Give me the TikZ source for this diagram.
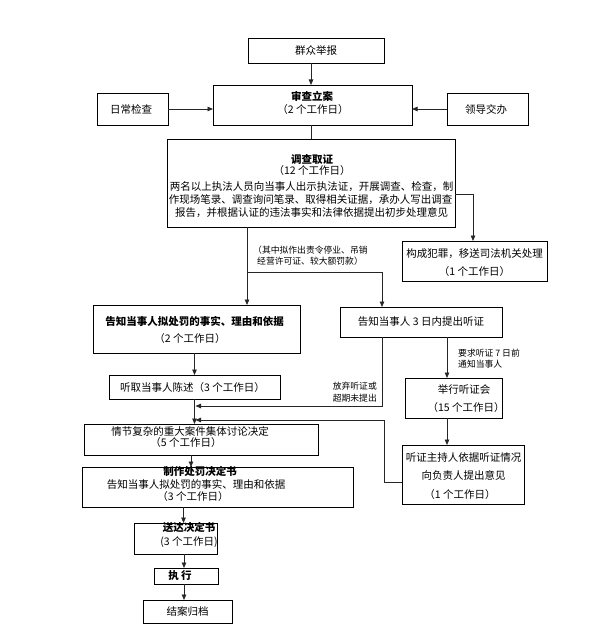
\documentclass[tikz,border=0pt]{standalone}
\usepackage{fontspec}
\setmainfont{Noto Sans CJK SC}
\usetikzlibrary{arrows.meta,calc}
\begin{document}
\begin{tikzpicture}[x=1pt,y=-1pt,
  box/.style={draw=black,line width=0.8pt,inner sep=0pt,outer sep=0pt,rectangle},
  t/.style={inner sep=0pt,font=\fontsize{10.5}{12}\selectfont,text height=8.6pt,text depth=1.4pt},
  tb/.style={t,font=\fontsize{10.5}{12}\selectfont\bfseries},
  ts/.style={inner sep=0pt,font=\fontsize{8.8}{10}\selectfont,text height=7.2pt,text depth=1.2pt},
  ln/.style={line width=0.8pt,draw=black!85},
  arr/.style={ln,-{Triangle[length=5.5pt,width=4.5pt]}}]
\useasboundingbox (0,0) rectangle (596,644);
\fill[white] (0,0) rectangle (596,644);
% boxes
\node[box,minimum width=136pt,minimum height=25pt] (qz) at (316,50.5) {};
\node[box,minimum width=71pt,minimum height=32pt] (rc) at (132.5,109) {};
\node[box,minimum width=199pt,minimum height=40pt] (sc) at (312.5,105) {};
\node[box,minimum width=81pt,minimum height=32pt] (ld) at (487.5,109) {};
\node[box,minimum width=288pt,minimum height=88pt] (dc) at (311,183) {};
\node[box,minimum width=145pt,minimum height=40pt] (fz) at (474.5,261) {};
\node[box,minimum width=207pt,minimum height=48pt] (nz) at (196.5,329) {};
\node[box,minimum width=162pt,minimum height=30pt] (tz) at (421,322) {};
\node[box,minimum width=171pt,minimum height=24pt] (tq) at (194.5,387) {};
\node[box,minimum width=97pt,minimum height=40pt] (jx) at (453.5,398) {};
\node[box,minimum width=122pt,minimum height=59pt] (zc) at (463,474.5) {};
\node[box,minimum width=234pt,minimum height=31pt] (qj) at (201,439.5) {};
\node[box,minimum width=271pt,minimum height=40pt] (zz) at (217.5,487) {};
\node[box,minimum width=83pt,minimum height=31pt] (sd) at (175.5,538.5) {};
\node[box,minimum width=64pt,minimum height=16pt] (zx) at (186,576) {};
\node[box,minimum width=89pt,minimum height=23pt] (ja) at (187.5,611.5) {};
% texts
\node[t] (t1) at (316,51) {群众举报};
\node[t] (t2) at (131,110) {日常检查};
\node[tb] (t3) at (312,97) {审查立案};
\node[t] (t4) at (313,110) {（2 个工作日）};
\node[t] (t5) at (486,110) {领导交办};
\node[tb] (t6) at (312,160) {调查取证};
\node[t] (t7) at (312,171) {（12 个工作日）};
\node[t] (t8) at (311.5,187) {两名以上执法人员向当事人出示执法证，开展调查、检查，制};
\node[t] (t9) at (310.5,200) {作现场笔录、调查询问笔录、取得相关证据，承办人写出调查};
\node[t] (t10) at (311.5,213) {报告，并根据认证的违法事实和法律依据提出初步处理意见};
\node[t] (t11) at (474.5,254) {构成犯罪，移送司法机关处理};
\node[t] (t12) at (474.5,272) {（1 个工作日）};
\node[ts,anchor=west] (t13) at (253,250) {（其中拟作出责令停业、吊销};
\node[ts,anchor=west] (t14) at (257,261) {经营许可证、较大额罚款）};
\node[tb] (t15) at (194.5,322) {告知当事人拟处罚的事实、理由和依据};
\node[t] (t16) at (190,339) {（2 个工作日）};
\node[t] (t17) at (421,322) {告知当事人 3 日内提出听证};
\node[t] (t18) at (192.5,388) {听取当事人陈述（3 个工作日）};
\node[ts,anchor=east] (t19) at (377,386) {放弃听证或};
\node[ts,anchor=east] (t20) at (377,398) {超期未提出};
\node[ts,anchor=west] (t21) at (458,353) {要求听证 7 日前};
\node[ts,anchor=west] (t22) at (458,364) {通知当事人};
\node[t] (t23) at (464,390) {举行听证会};
\node[t] (t24) at (466,408) {（15 个工作日）};
\node[t] (t25) at (463.5,458) {听证主持人依据听证情况};
\node[t] (t26) at (463.5,476) {向负责人提出意见};
\node[t] (t27) at (460,495) {（1 个工作日）};
\node[t] (t28) at (190,432) {情节复杂的重大案件集体讨论决定};
\node[t] (t29) at (186,443) {（5 个工作日）};
\node[tb] (t30) at (200,472) {制作处罚决定书};
\node[t] (t31) at (196,485) {告知当事人拟处罚的事实、理由和依据};
\node[t] (t32) at (193,497) {（3 个工作日）};
\node[tb] (t33) at (189,528) {送达决定书};
\node[t] (t34) at (189,542) {(3 个工作日)};
\node[tb] (t35) at (180,576) {执\ 行};
\node[t] (t36) at (187.5,612) {结案归档};
% helper coordinates
\coordinate (c311) at (311,0);
\coordinate (c194) at (0,194);
\coordinate (c473) at (473,0);
\coordinate (b1) at (247,272);
\coordinate (b2) at (382,272);
\coordinate (f1) at (382,406);
\coordinate (g1) at (384,420);
\coordinate (c482) at (0,482);
\coordinate (c195) at (195.5,0);
\coordinate (h1) at (447,0);
\coordinate (k1) at (191,0);
\coordinate (k2) at (183.5,0);
\coordinate (k3) at (184,0);
% connectors
\draw[arr] (qz.south -| c311) -- (sc.north -| c311);
\draw[arr] (rc.east) -- (rc.east -| sc.west);
\draw[arr] (ld.west) -- (ld.west -| sc.east);
\draw[ln] (sc.south -| c311) -- (dc.north -| c311);
\draw[arr] (dc.east |- c194) -| (fz.north -| c473);
\draw[ln] (dc.south -| b1) -- (b1);
\draw[arr] (b1) -- (nz.north -| b1);
\draw[arr] (b1) -- (b2) -- (tz.north -| b2);
\draw[arr] (nz.south -| tq.north) -- (tq.north);
\draw[arr] (tz.south -| f1) -- (f1) -- (f1 -| c195);
\draw[arr] (tq.south) -- (tq.south |- qj.north);
\draw[arr] (zc.west |- c482) -- (g1 |- c482) -- (g1) -- (g1 -| c195);
\draw[arr] (tz.south -| h1) -- (jx.north -| h1);
\draw[arr] (jx.south -| h1) -- (zc.north -| h1);
\draw[arr] (qj.south -| k1) -- (zz.north -| k1);
\draw[arr] (zz.south -| k2) -- (sd.north -| k2);
\draw[arr] (sd.south -| k3) -- (zx.north -| k3);
\draw[arr] (zx.south -| k3) -- (ja.north -| k3);
\end{tikzpicture}
\end{document}
